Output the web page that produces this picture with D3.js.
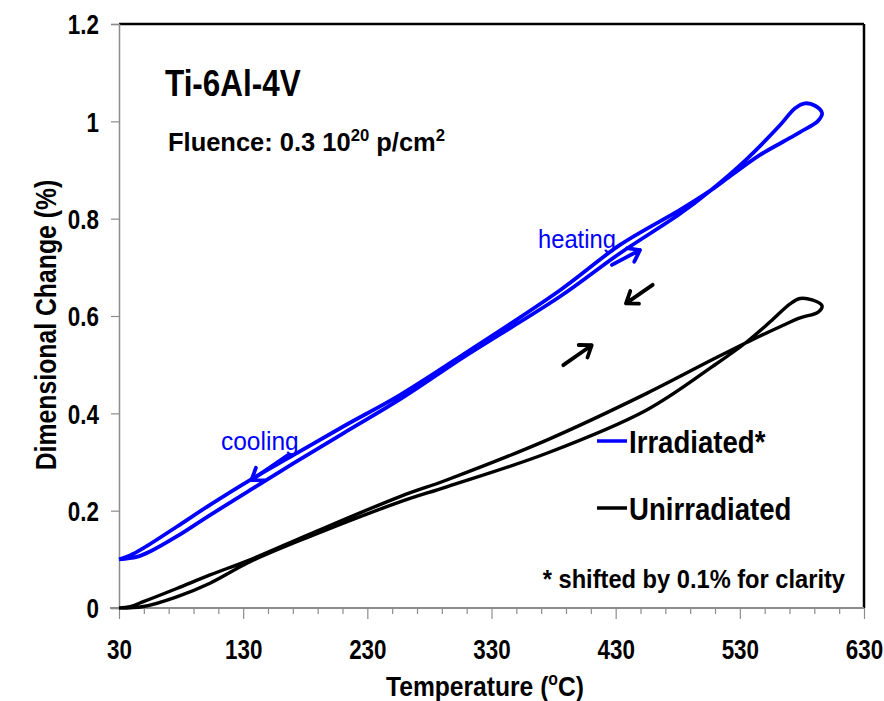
<!DOCTYPE html>
<html>
<head>
<meta charset="utf-8">
<script src="https://cdn.jsdelivr.net/npm/d3@7"></script>
<style>
  html, body { margin: 0; padding: 0; background: #ffffff; }
  svg { display: block; }
  text { font-family: "Liberation Sans", Arial, Helvetica, sans-serif; }
</style>
</head>
<body>
<svg id="chart" width="884" height="701"></svg>
<script>
// Dilatometry of Ti-6Al-4V: dimensional change (%) vs temperature (°C)
// Irradiated curve is shifted up by 0.1% for clarity.

// Irradiated* — heating branch (T °C, dL %)
const irrHeatT = [30, 44.3, 55, 76.5, 103.3, 135.5, 170.4, 210.6, 256.5, 310.3, 385.2, 433.5, 481.8, 505.9, 534.9, 562.3, 574.5, 582.5, 590.6, 596.2];
const irrHeatY = [0.100, 0.105, 0.116, 0.147, 0.191, 0.242, 0.297, 0.359, 0.429, 0.520, 0.640, 0.729, 0.810, 0.857, 0.921, 0.992, 1.027, 1.037, 1.032, 1.017];
// Irradiated* — cooling branch
const irrCoolT = [593.0, 578.5, 564.8, 546.3, 524.6, 505.9, 481.8, 433.5, 385.2, 310.3, 256.5, 210.6, 170.4, 135.5, 103.3, 76.5, 49.6, 38.9, 30];
const irrCoolY = [1.001, 0.978, 0.958, 0.931, 0.892, 0.857, 0.818, 0.746, 0.653, 0.526, 0.438, 0.373, 0.314, 0.263, 0.212, 0.167, 0.123, 0.108, 0.100];

// Unirradiated — heating branch
const unHeatT = [30, 49.6, 76.5, 103.3, 135.5, 183.8, 256.3, 293.9, 374.5, 455, 508.4, 534.2, 554.4, 570.5, 578.5, 588.2, 596.2];
const unHeatY = [0, 0.003, 0.023, 0.051, 0.095, 0.147, 0.218, 0.249, 0.318, 0.407, 0.497, 0.544, 0.588, 0.625, 0.636, 0.633, 0.621];
// Unirradiated — cooling branch
const unCoolT = [593.1, 578.5, 562.4, 546.3, 534.2, 508.4, 455, 374.5, 293.9, 256.3, 183.8, 135.5, 103.3, 76.5, 49.6, 38.9, 30];
const unCoolY = [0.608, 0.596, 0.578, 0.559, 0.544, 0.511, 0.441, 0.345, 0.263, 0.229, 0.152, 0.099, 0.068, 0.040, 0.013, 0.003, 0];

// Axis ticks
const xMajorTicks = [30, 130, 230, 330, 430, 530, 630];
const xMinorTicks = d3.range(30, 631, 20).filter(v => !xMajorTicks.includes(v));
const yTicks = [0, 0.2, 0.4, 0.6, 0.8, 1, 1.2];
const yTickLabels = ["0", "0.2", "0.4", "0.6", "0.8", "1", "1.2"];

// Direction arrows (tail T, tail Y, tip T, tip Y)
const arrowTailT = [427.0, 166.1, 459.8, 387.8];
const arrowTailY = [0.705, 0.314, 0.664, 0.499];
const arrowTipT  = [449.6, 136.7, 438.3, 410.7];
const arrowTipY  = [0.7356, 0.263, 0.626, 0.540];
const arrowColor = ["#0000ff", "#0000ff", "#000000", "#000000"];

const seriesNames = ["Irradiated*", "Unirradiated"];
const seriesColors = ["#0000ff", "#000000"];

const svg = d3.select("#chart");
const margin = { left: 119, right: 20, top: 24, bottom: 93 };
const W = 884, H = 701;

const x = d3.scaleLinear().domain([30, 630]).range([margin.left, W - margin.right]);
const y = d3.scaleLinear().domain([0, 1.2]).range([H - margin.bottom, margin.top]);

const SX = 0.83; // condensed bold look for tick labels

// frame: black top & right, grey left & bottom axes
svg.append("line").attr("x1", x(30)).attr("x2", x(630)).attr("y1", y(1.2)).attr("y2", y(1.2))
  .attr("stroke", "#000").attr("stroke-width", 2.5);
svg.append("line").attr("x1", x(630)).attr("x2", x(630)).attr("y1", y(1.2)).attr("y2", y(0))
  .attr("stroke", "#000").attr("stroke-width", 2.5);

// y axis
const yAxis = svg.append("g").attr("transform", `translate(${x(30)},0)`)
  .call(d3.axisLeft(y).tickValues(yTicks).tickSize(8).tickPadding(12)
    .tickFormat((d, i) => yTickLabels[i]));
yAxis.select(".domain").attr("stroke", "#8c8c8c").attr("stroke-width", 1.5);
yAxis.selectAll(".tick line").attr("stroke", "#8c8c8c").attr("stroke-width", 1.2);
yAxis.selectAll(".tick text")
  .attr("font-size", 27).attr("font-weight", "bold").attr("fill", "#000")
  .attr("font-family", "Liberation Sans, Arial, sans-serif")
  .attr("x", -20 / SX).attr("dy", "0.36em")
  .attr("transform", `scale(${SX},1)`);

// x axis: minor ticks
const xMinor = svg.append("g").attr("transform", `translate(0,${y(0)})`)
  .call(d3.axisBottom(x).tickValues(xMinorTicks).tickSize(6).tickFormat(""));
xMinor.select(".domain").remove();
xMinor.selectAll(".tick line").attr("stroke", "#8c8c8c").attr("stroke-width", 1.2);

// x axis: major ticks and labels
const xAxis = svg.append("g").attr("transform", `translate(0,${y(0)})`)
  .call(d3.axisBottom(x).tickValues(xMajorTicks).tickSize(11).tickSizeOuter(0).tickPadding(16));
xAxis.select(".domain").attr("stroke", "#8c8c8c").attr("stroke-width", 1.8)
  .attr("d", `M${x(30) - 9},0H${x(630)}`);
xAxis.selectAll(".tick line").attr("stroke", "#8c8c8c").attr("stroke-width", 1.2);
xAxis.selectAll(".tick text")
  .attr("font-size", 27).attr("font-weight", "bold").attr("fill", "#000")
  .attr("font-family", "Liberation Sans, Arial, sans-serif")
  .attr("transform", `scale(${SX},1)`)
  .attr("dy", "0.9em");

// helper for condensed text
function label(tx, ty, size, opts = {}) {
  return svg.append("text")
    .attr("transform", `translate(${tx},${ty}) ${opts.rotate ? "rotate(" + opts.rotate + ")" : ""} scale(${opts.sx || SX},1)`)
    .attr("font-size", size)
    .attr("font-weight", opts.weight || "bold")
    .attr("fill", opts.fill || "#000")
    .attr("text-anchor", opts.anchor || "start");
}

// axis titles
const xt = label(485, 696, 28, { anchor: "middle", sx: 0.88 });
xt.append("tspan").text("Temperature (");
xt.append("tspan").text("o").attr("font-size", 18).attr("dy", -11);
xt.append("tspan").text("C)").attr("dy", 11);

label(56, 325, 29, { anchor: "middle", rotate: -90, sx: 0.855 }).text("Dimensional Change (%)");

// curves
const line = d3.line().x(d => x(d[0])).y(d => y(d[1])).curve(d3.curveCatmullRom.alpha(0.5));
function loop(hT, hY, cT, cY) {
  return hT.map((t, i) => [t, hY[i]]).concat(cT.map((t, i) => [t, cY[i]]));
}
const curves = [loop(irrHeatT, irrHeatY, irrCoolT, irrCoolY), loop(unHeatT, unHeatY, unCoolT, unCoolY)];
svg.append("g").selectAll("path").data(curves.slice().reverse()).join("path")
  .attr("d", line).attr("fill", "none")
  .attr("stroke", (d, i) => seriesColors[1 - i])
  .attr("stroke-width", (d, i) => i === 0 ? 3.4 : 3.8)
  .attr("stroke-linejoin", "round");

// direction arrows
const ag = svg.append("g");
arrowTipT.forEach((tt, i) => {
  const x0 = x(arrowTailT[i]), y0 = y(arrowTailY[i]);
  const x1 = x(tt), y1 = y(arrowTipY[i]);
  const ang = Math.atan2(y1 - y0, x1 - x0);
  const hl = 13, ha = Math.PI / 5;
  const w1 = [x1 - hl * Math.cos(ang - ha), y1 - hl * Math.sin(ang - ha)];
  const w2 = [x1 - hl * Math.cos(ang + ha), y1 - hl * Math.sin(ang + ha)];
  ag.append("path")
    .attr("d", `M${x0},${y0}L${x1},${y1}M${w1[0]},${w1[1]}L${x1},${y1}L${w2[0]},${w2[1]}`)
    .attr("fill", "none").attr("stroke", arrowColor[i]).attr("stroke-width", 3.8)
    .attr("stroke-linecap", "round").attr("stroke-linejoin", "round");
});

// annotations
label(538, 248, 25, { weight: "normal", fill: "#0000ff", sx: 0.95 }).text("heating");
label(221, 450, 25, { weight: "normal", fill: "#0000ff", sx: 0.98 }).text("cooling");

label(165, 96, 37, { sx: 0.85 }).text("Ti-6Al-4V");
const fl = label(168, 151, 26, { sx: 0.98 });
fl.append("tspan").text("Fluence: 0.3 10");
fl.append("tspan").text("20").attr("font-size", 17).attr("dy", -10);
fl.append("tspan").text(" p/cm").attr("dy", 10);
fl.append("tspan").text("2").attr("font-size", 17).attr("dy", -10);

// legend
const legY = [441, 508];
seriesNames.forEach((n, i) => {
  svg.append("line").attr("x1", 597).attr("x2", 627).attr("y1", legY[i]).attr("y2", legY[i])
    .attr("stroke", seriesColors[i]).attr("stroke-width", 3.5);
  label(629, legY[i] + 12, 31, { sx: 0.89 }).text(n);
});

label(845, 588, 26, { anchor: "end", sx: 0.91 }).text("* shifted by 0.1% for clarity");
</script>
</body>
</html>
